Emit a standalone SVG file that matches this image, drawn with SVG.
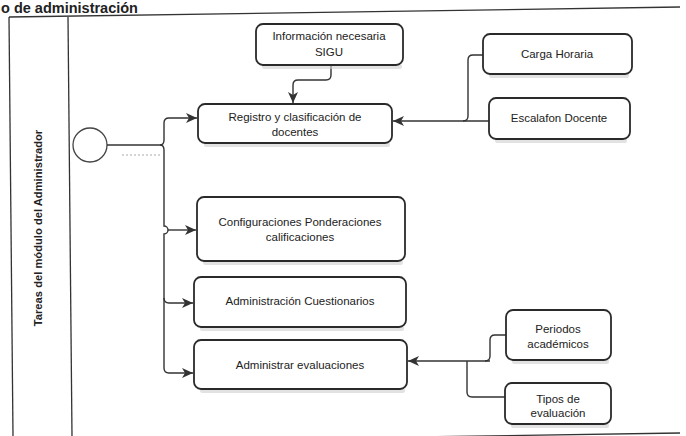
<svg xmlns="http://www.w3.org/2000/svg" width="686" height="436" viewBox="0 0 686 436">
<style>
.box{fill:#fff;stroke:#2a2a2a;stroke-width:1.8}
.shadow{fill:#cfcfcf;opacity:0.6}
.t{font-family:"Liberation Sans",Arial,sans-serif;font-size:11.5px;fill:#222;text-anchor:middle}
.c{fill:none;stroke:#333;stroke-width:1.4}
.frame{fill:none;stroke:#333;stroke-width:1.3}
</style>
<defs>
<marker id="arr" markerUnits="userSpaceOnUse" markerWidth="12" markerHeight="10" refX="11" refY="5" orient="auto">
<path d="M0,0 L11,5 L0,10 L3,5 z" fill="#333"/>
</marker>
</defs>
<rect width="686" height="436" fill="#fff"/>
<text x="1" y="13" font-family="Liberation Sans,Arial,sans-serif" font-size="14.5" font-weight="bold" fill="#222">o de administración</text>
<g id="pool">
<path class="frame" d="M9,17 L680,7"/>
<path class="frame" d="M9,17 L13,436"/>
<path class="frame" d="M68,17 L72,436"/>
<path class="frame" d="M13,443 L680,433"/>
<text x="42" y="228" transform="rotate(-90 42 228)" font-family="Liberation Sans,Arial,sans-serif" font-size="11.2" font-weight="bold" fill="#222" text-anchor="middle">Tareas del módulo del Administrador</text>
</g>
<g id="start">
<circle cx="90" cy="145" r="17" fill="#fff" stroke="#444" stroke-width="1.3"/>
</g>
<g id="connectors">
<path d="M122,155 H160" stroke="#aaa" stroke-width="1" stroke-dasharray="2,2" fill="none"/>
<path class="c" d="M107,145 H160"/>
<path class="c" d="M160,145 Q164,145 164,140 V123 Q164,118 169,118 H197" marker-end="url(#arr)"/>
<path class="c" d="M160,145 Q164,145 164,150 V226 A4,4 0 0 1 164,234 V368 Q164,373 169,373 H193" marker-end="url(#arr)"/>
<path class="c" d="M168,230 H196" marker-end="url(#arr)"/>
<path class="c" d="M164,298 Q164,303 169,303 H193" marker-end="url(#arr)"/>
<path class="c" d="M331,65 V75 Q331,80 326,80 H298 Q293,80 293,85 V103" marker-end="url(#arr)"/>
<path class="c" d="M483,55 H473 Q468,55 468,60 V116 Q468,121 463,121"/>
<path class="c" d="M489,121 H393" marker-end="url(#arr)"/>
<path class="c" d="M506,335 H495 Q490,335 490,340 V356 Q490,361 485,361"/>
<path class="c" d="M505,397 H472 Q467,397 467,392 V361"/>
<path class="c" d="M490,361 H408" marker-end="url(#arr)"/>
</g>
<g id="info">
<rect class="shadow" x="262" y="64" width="140" height="5" rx="2"/>
<rect class="box" x="256" y="24" width="147" height="41" rx="7"/>
<text class="t" x="329" y="40" font-size="10.8">Información necesaria</text>
<text class="t" x="329" y="56" font-size="10.8">SIGU</text>
</g>
<g id="registro">
<rect class="shadow" x="204" y="142" width="186" height="5" rx="2"/>
<rect class="box" x="198" y="104" width="194" height="39" rx="7"/>
<text class="t" x="295" y="121">Registro y clasificación de</text>
<text class="t" x="295" y="136">docentes</text>
</g>
<g id="carga">
<rect class="shadow" x="489" y="73" width="140" height="5" rx="2"/>
<rect class="box" x="483" y="34" width="149" height="40" rx="7"/>
<text class="t" x="557" y="58">Carga Horaria</text>
</g>
<g id="escalafon">
<rect class="shadow" x="495" y="138" width="132" height="5" rx="2"/>
<rect class="box" x="489" y="98" width="141" height="41" rx="7"/>
<text class="t" x="559" y="122">Escalafon Docente</text>
</g>
<g id="config">
<rect class="shadow" x="203" y="260" width="200" height="5" rx="2"/>
<rect class="box" x="197" y="197" width="208" height="64" rx="7"/>
<text class="t" x="300" y="226">Configuraciones Ponderaciones</text>
<text class="t" x="300" y="241">calificaciones</text>
</g>
<g id="cuestionarios">
<rect class="shadow" x="200" y="326" width="204" height="5" rx="2"/>
<rect class="box" x="194" y="277" width="212" height="50" rx="7"/>
<text class="t" x="300" y="305">Administración Cuestionarios</text>
</g>
<g id="evaluaciones">
<rect class="shadow" x="200" y="388" width="205" height="5" rx="2"/>
<rect class="box" x="194" y="340" width="213" height="49" rx="7"/>
<text class="t" x="300" y="369">Administrar evaluaciones</text>
</g>
<g id="periodos">
<rect class="shadow" x="512" y="359" width="97" height="5" rx="2"/>
<rect class="box" x="506" y="310" width="105" height="50" rx="7"/>
<text class="t" x="558" y="333">Periodos</text>
<text class="t" x="558" y="348">académicos</text>
</g>
<g id="tipos">
<rect class="shadow" x="511" y="423" width="98" height="5" rx="2"/>
<rect class="box" x="505" y="383" width="106" height="41" rx="7"/>
<text class="t" x="558" y="403">Tipos de</text>
<text class="t" x="558" y="417">evaluación</text>
</g>
</svg>
